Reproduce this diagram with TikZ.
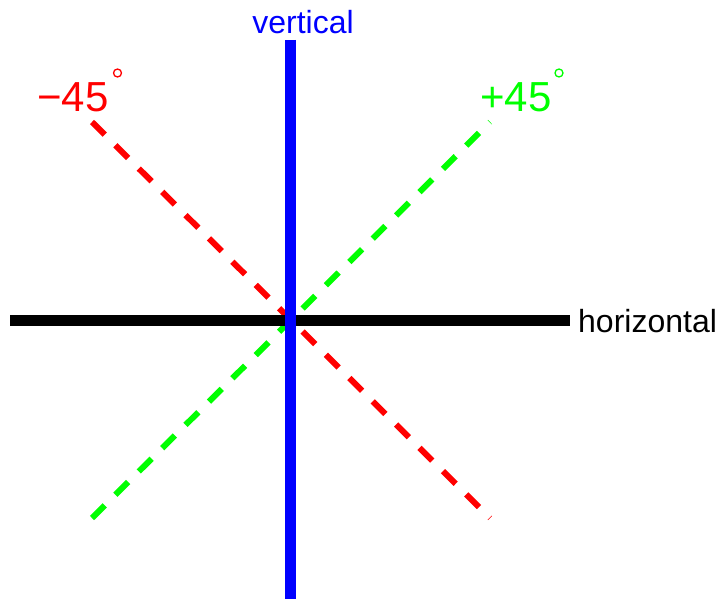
\documentclass[tikz,border=0pt]{standalone}
\usepackage{fontspec}
\setmainfont{Liberation Sans}
\tikzset{
  diag/.style={line width=6pt, dash pattern=on 18pt off 15pt},
  axis/.style={line width=11pt},
  lab/.style={inner sep=0pt, font=\fontsize{32}{32}\selectfont},
  anglab/.style={inner sep=0pt, font=\fontsize{42}{42}\selectfont},
  deglab/.style={circle, draw, line width=1.3pt, inner sep=0pt, minimum size=8pt}
}
\begin{document}
\begin{tikzpicture}[x=1pt, y=-1pt]
				\useasboundingbox (0,0) rectangle (723,599);
				% 1. 端点
				\coordinate (hleft) at (10,320);   \coordinate (hright) at (570,320);
				\coordinate (vtop) at (290.5,40);  \coordinate (vbot) at (290.5,599);
				\coordinate (mstart) at (92,122);  \coordinate (mend) at (490,518);
				\coordinate (pstart) at (92,518);  \coordinate (pend) at (490,122);
				
				% 2. 斜虚线
				\draw[diag, red] (mstart) -- (mend);
				\draw[diag, green] (pstart) -- (pend);
				
				% 3. 水平线与竖直线
				\draw[axis, black] (hleft) -- (hright);
				\draw[axis, blue] (vtop) -- (vbot);
				
				% 4. 标签
				\node[lab, anchor=base west] (horlab) at (578,332) {horizontal};
				\node[lab, anchor=base, blue] (verlab) at (303,34) {vertical};
				\node[anglab, anchor=base west, red] (minuslab) at (37,112) {−45};
				\node[deglab, red] (minusdeg) at (117.5,73) {};
				\node[anglab, anchor=base west, green] (pluslab) at (480,112) {+45};
				\node[deglab, green] (plusdeg) at (559,73) {};
\end{tikzpicture}
\end{document}
